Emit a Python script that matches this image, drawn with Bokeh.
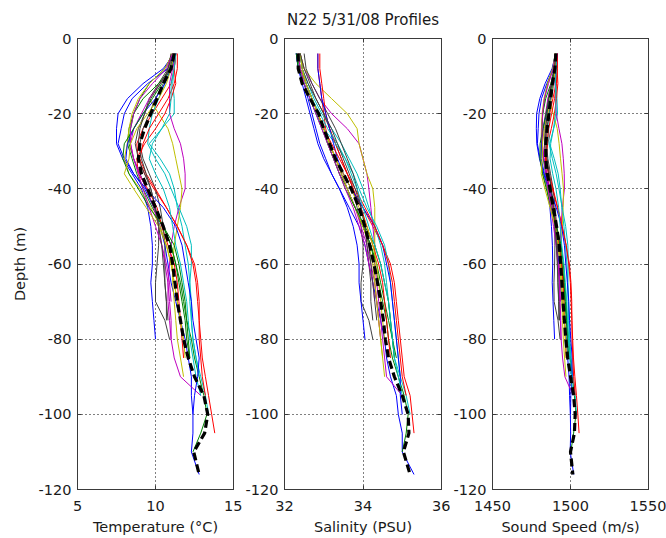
from bokeh.plotting import figure
from bokeh.layouts import row
from bokeh.models import (FixedTicker, LinearAxis, Range1d, PrintfTickFormatter,
                          CustomLabelingPolicy)
from bokeh.embed import file_html
from bokeh.resources import INLINE

# Sample depths (m) shared by every cast; shorter casts use the first N levels
depth_grid = [-4, -8, -12, -16, -20, -24, -28, -32, -36, -40, -45, -50, -55,
              -60, -65, -70, -75, -80, -85, -90, -95, -100, -105, -110, -116]

# MATLAB-style colour order, cycled over the casts
color_order = ["#0000ff", "#008000", "#ff0000", "#00bfbf", "#bf00bf", "#bfbf00", "#404040"]

# Temperature (deg C) per cast
temperature_profiles = [
    [11.2, 10.8, 9.5, 8.5, 8.0, 7.8, 7.6, 8.0, 8.6, 9.3, 9.9, 10.3, 10.6, 10.8, 11.0, 11.3, 11.6, 11.9, 12.1, 12.3, 12.3, 12.4, 12.4, 12.3, 12.8],
    [11.1, 10.6, 9.6, 9.0, 8.6, 8.4, 8.3, 8.6, 9.0, 9.4, 9.9, 10.5, 11.0, 11.3, 11.6, 11.8, 12.0, 12.3, 12.5, 12.8, 13.1, 13.3, 12.9, 12.4],
    [11.3, 11.2, 11.0, 10.4, 9.8, 9.2, 8.8, 8.9, 9.3, 9.9, 10.7, 11.4, 12.0, 12.5, 12.7, 12.8, 12.8, 12.9, 13.0, 13.2, 13.4, 13.6, 13.8],
    [11.3, 11.2, 11.1, 11.2, 11.2, 10.4, 9.6, 10.3, 10.9, 11.2, 11.4, 11.7, 11.9, 12.1, 12.2, 12.3, 12.3, 12.4, 12.6, 12.9, 13.2, 13.4],
    [11.3, 11.1, 10.9, 10.9, 10.9, 11.2, 11.6, 11.8, 11.9, 11.9, 11.5, 11.2, 11.0, 10.9, 10.8, 10.8, 10.9, 11.0, 11.2, 11.6, 12.9],
    [11.0, 10.9, 10.3, 9.6, 10.2, 10.8, 11.1, 11.3, 11.5, 11.7, 11.6, 11.4, 11.2, 11.1, 11.1, 11.2, 11.3, 11.4, 11.6, 11.8],
    [11.1, 10.8, 10.2, 9.6, 9.3, 8.9, 8.7, 8.9, 9.3, 9.7, 10.0, 10.2, 10.2, 10.1, 10.0, 10.0, 10.6, 10.9],
    [11.2, 10.5, 9.2, 8.2, 7.6, 7.5, 7.5, 7.9, 8.5, 9.1, 9.5, 9.7, 9.8, 9.8, 9.7, 9.8, 9.9, 10.0],
    [11.3, 11.0, 10.2, 9.2, 8.6, 8.3, 8.2, 8.5, 8.8, 9.2, 9.8, 10.5, 11.0, 11.3, 11.5, 11.7, 11.9, 12.0, 12.2],
    [11.3, 11.2, 11.3, 11.0, 10.6, 10.0, 9.3, 8.8, 8.9, 9.5, 10.1, 10.4, 10.8, 11.2, 11.4, 11.5, 11.6, 11.7, 11.8],
    [11.2, 11.0, 10.6, 10.2, 9.8, 9.6, 9.5, 10.0, 10.6, 11.0, 11.5, 12.0, 12.3, 12.3, 12.2, 12.2, 12.3, 12.4, 12.6, 12.8],
    [11.2, 11.0, 10.3, 9.6, 9.1, 8.6, 8.4, 8.6, 9.0, 9.4, 9.9, 10.2, 10.4, 10.6, 10.8, 10.9, 11.0, 11.0],
    [11.1, 10.6, 9.6, 8.9, 8.5, 8.3, 8.2, 8.0, 8.3, 9.0, 9.7, 10.3, 10.7, 11.0, 11.2, 11.4, 11.6, 11.8, 11.9],
    [11.0, 10.8, 10.5, 10.0, 9.6, 9.2, 9.0, 9.2, 9.6, 10.0, 10.3, 10.5, 10.6, 10.6, 10.6, 10.7, 10.7],
    [11.3, 11.0, 10.6, 10.0, 9.2, 8.6, 8.2, 8.1, 8.6, 9.4, 10.5, 11.3, 11.7, 11.9, 12.1, 12.3, 12.4, 12.6, 12.8, 12.7, 12.5, 12.4],
    [11.2, 11.0, 10.4, 9.8, 9.2, 8.6, 8.0, 7.9, 8.3, 8.9, 9.6, 10.5, 11.2, 11.5, 11.7, 11.9, 12.0, 12.1, 12.2],
    [11.4, 11.4, 11.2, 10.8, 10.2, 9.6, 9.2, 9.0, 9.4, 10.0, 10.7, 11.4, 12.0, 12.4, 12.6, 12.7, 12.8, 12.8, 12.9, 13.0, 13.2],
    [11.3, 11.2, 11.0, 11.0, 10.9, 10.4, 9.8, 9.6, 10.0, 10.5, 10.9, 11.1, 11.3, 11.6, 11.8, 12.0, 12.1, 12.2, 12.4, 12.6, 12.9],
    [11.1, 10.7, 9.8, 9.0, 8.6, 8.4, 8.4, 8.6, 8.9, 9.2, 9.6, 10.0, 10.4, 10.7, 10.9, 11.0],
    [11.2, 11.0, 10.7, 10.2, 9.5, 8.8, 8.4, 8.3, 8.0, 8.6, 9.4, 10.2, 10.7, 11.0, 11.2, 11.4, 11.6, 11.8],
    [11.2, 10.9, 10.3, 9.7, 9.3, 9.0, 8.9, 9.1, 9.4, 9.7, 10.0, 10.2, 10.4, 10.5, 10.6, 10.7, 10.8],
]

# Salinity (PSU) per cast
salinity_profiles = [
    [32.3, 32.35, 32.5, 32.6, 32.7, 32.8, 32.9, 33.05, 33.2, 33.4, 33.65, 33.9, 34.05, 34.15, 34.25, 34.35, 34.45, 34.55, 34.6, 34.7, 34.85, 34.9, 35.0, 35.0, 35.3],
    [32.3, 32.4, 32.55, 32.7, 32.85, 33.0, 33.1, 33.25, 33.4, 33.6, 33.8, 34.0, 34.2, 34.3, 34.4, 34.5, 34.6, 34.65, 34.75, 34.9, 35.05, 35.15, 35.1, 35.0],
    [32.85, 32.85, 32.9, 32.95, 33.0, 33.05, 33.15, 33.3, 33.5, 33.7, 34.0, 34.25, 34.5, 34.7, 34.8, 34.85, 34.9, 34.95, 35.0, 35.05, 35.2, 35.25, 35.3],
    [32.4, 32.45, 32.6, 32.75, 32.95, 33.2, 33.45, 33.65, 33.85, 34.0, 34.15, 34.3, 34.45, 34.55, 34.6, 34.65, 34.7, 34.75, 34.8, 34.95, 35.1, 35.2],
    [32.4, 32.5, 32.7, 32.9, 33.2, 33.6, 33.9, 34.0, 34.1, 34.15, 34.2, 34.25, 34.3, 34.3, 34.35, 34.4, 34.45, 34.5, 34.55, 34.6, 35.0],
    [32.4, 32.5, 32.8, 33.2, 33.6, 33.85, 33.9, 34.0, 34.1, 34.25, 34.3, 34.3, 34.3, 34.3, 34.3, 34.35, 34.4, 34.45, 34.5, 34.55],
    [32.4, 32.45, 32.6, 32.8, 33.0, 33.15, 33.3, 33.45, 33.6, 33.75, 33.85, 33.95, 34.0, 34.0, 33.95, 33.95, 34.15, 34.25],
    [32.3, 32.35, 32.45, 32.55, 32.65, 32.75, 32.85, 33.0, 33.2, 33.4, 33.6, 33.75, 33.85, 33.9, 33.9, 33.95, 34.0, 34.05],
    [32.35, 32.4, 32.55, 32.7, 32.85, 33.0, 33.15, 33.3, 33.45, 33.6, 33.8, 34.0, 34.2, 34.35, 34.45, 34.55, 34.65, 34.75, 34.85],
    [32.9, 32.9, 32.95, 33.0, 33.05, 33.15, 33.3, 33.45, 33.6, 33.75, 33.95, 34.1, 34.25, 34.4, 34.5, 34.55, 34.6, 34.65, 34.7],
    [32.35, 32.4, 32.5, 32.65, 32.8, 33.0, 33.3, 33.55, 33.75, 33.9, 34.1, 34.35, 34.55, 34.65, 34.7, 34.75, 34.8, 34.85, 34.9, 34.95],
    [32.35, 32.4, 32.55, 32.7, 32.85, 33.0, 33.15, 33.3, 33.45, 33.6, 33.8, 33.95, 34.1, 34.2, 34.3, 34.35, 34.4, 34.45],
    [32.35, 32.4, 32.55, 32.7, 32.85, 33.0, 33.15, 33.3, 33.45, 33.6, 33.8, 34.0, 34.15, 34.25, 34.3, 34.35, 34.4, 34.45, 34.5],
    [32.5, 32.55, 32.7, 32.9, 33.1, 33.3, 33.45, 33.6, 33.75, 33.85, 33.95, 34.05, 34.1, 34.15, 34.2, 34.2, 34.25],
    [32.85, 32.85, 32.9, 32.95, 33.05, 33.15, 33.25, 33.35, 33.5, 33.7, 34.0, 34.3, 34.5, 34.6, 34.7, 34.75, 34.8, 34.85, 34.9, 34.95, 34.95, 35.0],
    [32.3, 32.35, 32.5, 32.65, 32.8, 32.95, 33.1, 33.25, 33.4, 33.55, 33.8, 34.05, 34.3, 34.45, 34.55, 34.65, 34.7, 34.75, 34.8],
    [32.4, 32.45, 32.55, 32.7, 32.85, 33.0, 33.2, 33.4, 33.6, 33.8, 34.05, 34.3, 34.5, 34.65, 34.75, 34.8, 34.85, 34.9, 34.95, 35.0, 35.1],
    [32.4, 32.45, 32.55, 32.7, 32.9, 33.1, 33.35, 33.55, 33.7, 33.85, 34.0, 34.15, 34.3, 34.45, 34.55, 34.65, 34.7, 34.75, 34.8, 34.9, 35.0],
    [32.35, 32.4, 32.5, 32.65, 32.8, 32.95, 33.1, 33.25, 33.4, 33.55, 33.75, 33.9, 34.05, 34.15, 34.25, 34.3],
    [32.4, 32.45, 32.55, 32.7, 32.85, 33.0, 33.15, 33.3, 33.5, 33.7, 33.9, 34.1, 34.25, 34.35, 34.4, 34.45, 34.5, 34.55],
    [32.4, 32.5, 32.65, 32.8, 33.0, 33.2, 33.35, 33.5, 33.65, 33.8, 33.95, 34.05, 34.15, 34.2, 34.25, 34.3, 34.35],
]

# Sound speed (m/s) per cast
sound_speed_profiles = [
    [1490.5, 1489.2, 1484.8, 1481.4, 1479.8, 1479.3, 1478.8, 1480.5, 1482.9, 1485.8, 1488.3, 1490.2, 1491.6, 1492.5, 1493.4, 1494.7, 1496.0, 1497.3, 1498.2, 1499.1, 1499.4, 1499.9, 1500.1, 1499.8, 1502.1],
    [1490.2, 1488.6, 1485.3, 1483.4, 1482.2, 1481.7, 1481.6, 1482.9, 1484.6, 1486.4, 1488.5, 1491.0, 1493.2, 1494.5, 1495.8, 1496.7, 1497.6, 1498.9, 1499.8, 1501.2, 1502.5, 1503.5, 1502.0, 1500.2],
    [1491.6, 1491.4, 1490.8, 1488.7, 1486.7, 1484.7, 1483.4, 1484.1, 1485.8, 1488.3, 1491.7, 1494.6, 1497.2, 1499.3, 1500.3, 1500.8, 1500.9, 1501.4, 1501.9, 1502.8, 1503.8, 1504.7, 1505.5],
    [1491.0, 1490.8, 1490.7, 1491.3, 1491.7, 1489.2, 1486.7, 1489.6, 1492.1, 1493.4, 1494.4, 1495.8, 1496.8, 1497.7, 1498.2, 1498.7, 1498.9, 1499.4, 1500.2, 1501.6, 1503.0, 1503.9],
    [1491.0, 1490.5, 1490.1, 1490.5, 1490.9, 1492.6, 1494.5, 1495.4, 1496.0, 1496.1, 1494.8, 1493.9, 1493.3, 1493.0, 1492.8, 1493.0, 1493.5, 1494.0, 1494.9, 1496.4, 1501.7],
    [1490.0, 1489.8, 1488.1, 1486.2, 1488.9, 1491.5, 1492.7, 1493.6, 1494.6, 1495.5, 1495.3, 1494.7, 1494.0, 1493.8, 1493.8, 1494.4, 1494.9, 1495.4, 1496.2, 1497.1],
    [1490.3, 1489.4, 1487.5, 1485.7, 1484.9, 1483.7, 1483.3, 1484.3, 1486.0, 1487.7, 1489.0, 1489.9, 1490.0, 1489.8, 1489.4, 1489.5, 1492.0, 1493.3],
    [1490.5, 1488.2, 1483.7, 1480.3, 1478.3, 1478.1, 1478.4, 1480.1, 1482.6, 1485.0, 1486.8, 1487.8, 1488.4, 1488.6, 1488.3, 1488.8, 1489.3, 1489.8],
    [1491.0, 1490.0, 1487.4, 1484.1, 1482.2, 1481.4, 1481.3, 1482.6, 1484.0, 1485.7, 1488.2, 1491.0, 1493.2, 1494.6, 1495.5, 1496.4, 1497.4, 1497.9, 1498.9],
    [1491.7, 1491.4, 1491.9, 1491.0, 1489.7, 1487.7, 1485.4, 1483.9, 1484.5, 1486.9, 1489.5, 1490.8, 1492.5, 1494.3, 1495.2, 1495.7, 1496.2, 1496.7, 1497.2],
    [1490.6, 1490.0, 1488.8, 1487.6, 1486.4, 1486.0, 1486.2, 1488.4, 1490.8, 1492.6, 1494.7, 1496.9, 1498.3, 1498.6, 1498.3, 1498.5, 1499.0, 1499.5, 1500.4, 1501.2],
    [1490.6, 1490.0, 1487.8, 1485.5, 1484.0, 1482.4, 1482.0, 1483.0, 1484.7, 1486.4, 1488.5, 1489.9, 1490.9, 1491.8, 1492.8, 1493.3, 1493.8, 1493.9],
    [1490.3, 1488.6, 1485.3, 1483.0, 1481.8, 1481.4, 1481.3, 1480.8, 1482.2, 1484.9, 1487.8, 1490.3, 1492.0, 1493.3, 1494.2, 1495.1, 1495.9, 1496.8, 1497.3],
    [1490.1, 1489.5, 1488.7, 1487.2, 1486.1, 1485.0, 1484.6, 1485.5, 1487.2, 1488.9, 1490.2, 1491.1, 1491.6, 1491.8, 1491.9, 1492.4, 1492.5],
    [1491.6, 1490.6, 1489.3, 1487.3, 1484.6, 1482.6, 1481.4, 1481.2, 1483.3, 1486.5, 1490.9, 1494.3, 1496.1, 1497.0, 1498.0, 1498.9, 1499.4, 1500.2, 1501.1, 1500.9, 1500.2, 1500.0],
    [1490.5, 1490.0, 1488.1, 1486.2, 1484.3, 1482.4, 1480.5, 1480.4, 1482.1, 1484.5, 1487.5, 1491.1, 1494.0, 1495.4, 1496.3, 1497.3, 1497.8, 1498.3, 1498.8],
    [1491.4, 1491.5, 1491.0, 1489.8, 1487.9, 1486.0, 1484.9, 1484.6, 1486.3, 1488.8, 1491.8, 1494.7, 1497.2, 1498.9, 1499.9, 1500.4, 1500.9, 1501.0, 1501.5, 1502.0, 1503.0],
    [1491.0, 1490.8, 1490.3, 1490.6, 1490.5, 1489.1, 1487.3, 1486.9, 1488.6, 1490.7, 1492.4, 1493.4, 1494.4, 1495.8, 1496.7, 1497.6, 1498.1, 1498.7, 1499.5, 1500.5, 1501.7],
    [1490.3, 1489.0, 1485.9, 1483.3, 1482.1, 1481.7, 1481.9, 1482.9, 1484.3, 1485.6, 1487.4, 1489.1, 1490.8, 1492.1, 1493.1, 1493.6],
    [1490.7, 1490.1, 1489.2, 1487.7, 1485.4, 1483.2, 1482.0, 1481.9, 1481.2, 1483.6, 1486.9, 1490.1, 1492.2, 1493.5, 1494.3, 1495.2, 1496.1, 1496.9],
    [1490.7, 1489.8, 1487.9, 1486.0, 1484.9, 1484.2, 1484.1, 1485.0, 1486.4, 1487.7, 1489.1, 1490.0, 1491.0, 1491.5, 1492.0, 1492.5, 1493.0],
]

# Mean profile over all casts
mean_temperature = [11.2, 11.0, 10.5, 10.1, 9.7, 9.3, 9.0, 8.9, 9.1, 9.5, 10.0, 10.5, 10.9,
                    11.1, 11.25, 11.4, 11.6, 11.8, 12.1, 12.5, 13.1, 13.35, 13.15, 12.45, 12.8]
mean_salinity = [32.35, 32.35, 32.45, 32.65, 32.87, 33.0, 33.15, 33.3, 33.5, 33.7, 33.9, 34.05, 34.17,
                 34.28, 34.37, 34.45, 34.52, 34.57, 34.65, 34.8, 35.0, 35.15, 35.17, 35.03, 35.2]
mean_sound_speed = [1490.6, 1490.0, 1488.4, 1487.3, 1486.2, 1485.0, 1484.2, 1484.1, 1485.1, 1486.9,
                    1489.0, 1491.1, 1492.8, 1493.7, 1494.5, 1495.2, 1496.1, 1497.0, 1498.2, 1500.0,
                    1502.0, 1503.0, 1502.5, 1500.0, 1501.5]

depth_ticks = [-120, -100, -80, -60, -40, -20, 0]
temperature_ticks = [5, 10, 15]
salinity_ticks = [32, 34, 36]
sound_speed_ticks = [1450, 1500, 1550]

FONT = "DejaVu Sans"
TEXT_COLOR = "#1a1a1a"
BOX_COLOR = "#3a3a3a"
LABEL_SIZE = "14.5px"

# mirror axes carry tick marks only, no labels
NO_LABELS = "for (const i of indices) { indices.unset(i) }\nreturn indices"


def style_axis(axis, ticks, show_labels=True):
    axis.ticker = FixedTicker(ticks=ticks)
    axis.formatter = PrintfTickFormatter(format="%d")
    axis.major_tick_in = 4
    axis.major_tick_out = 0
    axis.minor_tick_in = 0
    axis.minor_tick_out = 0
    axis.axis_line_color = BOX_COLOR
    axis.major_tick_line_color = BOX_COLOR
    axis.major_label_text_font = FONT
    axis.major_label_text_color = TEXT_COLOR
    axis.major_label_text_font_size = LABEL_SIZE
    axis.axis_label_text_font = FONT
    axis.axis_label_text_color = TEXT_COLOR
    axis.axis_label_text_font_style = "normal"
    axis.axis_label_text_font_size = LABEL_SIZE
    if not show_labels:
        axis.major_label_policy = CustomLabelingPolicy(code=NO_LABELS)
        axis.major_label_text_font_size = "0px"
        axis.major_label_standoff = 0


def make_panel(profiles, mean_values, x_start, x_end, x_ticks, x_label,
               width, border_left, border_right, y_label=None, title=None):
    p = figure(width=width, height=538, output_backend="svg", toolbar_location=None,
               x_range=Range1d(x_start, x_end), y_range=Range1d(-120, 0),
               min_border_left=border_left, min_border_right=border_right,
               min_border_top=38, min_border_bottom=49,
               background_fill_color="white", border_fill_color="white")
    p.outline_line_color = BOX_COLOR
    p.outline_line_width = 1

    if title:
        p.title.text = title
        p.title.align = "center"
        p.title.vertical_align = "top"
        p.title.text_font = FONT
        p.title.text_font_size = "15px"
        p.title.text_font_style = "normal"
        p.title.text_color = TEXT_COLOR
        p.title.standoff = 16

    style_axis(p.xaxis[0], x_ticks)
    p.xaxis[0].axis_label = x_label
    p.xaxis[0].major_label_standoff = 11
    p.xaxis[0].axis_label_standoff = 5
    style_axis(p.yaxis[0], depth_ticks)
    p.yaxis[0].major_label_standoff = 6
    if y_label:
        p.yaxis[0].axis_label = y_label
        p.yaxis[0].axis_label_standoff = 8

    top_axis = LinearAxis()
    style_axis(top_axis, x_ticks, show_labels=False)
    p.add_layout(top_axis, "above")
    right_axis = LinearAxis()
    style_axis(right_axis, depth_ticks, show_labels=False)
    p.add_layout(right_axis, "right")

    p.xgrid[0].ticker = FixedTicker(ticks=x_ticks)
    p.ygrid[0].ticker = FixedTicker(ticks=depth_ticks)
    for g in (p.xgrid[0], p.ygrid[0]):
        g.grid_line_color = "#000000"
        g.grid_line_dash = "1 3"
        g.grid_line_width = 1

    for i, values in enumerate(profiles):
        p.line(values, depth_grid[:len(values)], line_color=color_order[i % len(color_order)],
               line_width=1)
    p.line(mean_values, depth_grid[:len(mean_values)], line_color="black",
           line_width=3.2, line_dash="8 4")
    return p


p1 = make_panel(temperature_profiles, mean_temperature, 5, 15, temperature_ticks,
                "Temperature (°C)", width=242, border_left=77, border_right=9,
                y_label="Depth (m)")
p2 = make_panel(salinity_profiles, mean_salinity, 32, 36, salinity_ticks,
                "Salinity (PSU)", width=208, border_left=42, border_right=9,
                title="N22 5/31/08 Profiles")
p3 = make_panel(sound_speed_profiles, mean_sound_speed, 1450, 1550, sound_speed_ticks,
                "Sound Speed (m/s)", width=216, border_left=42, border_right=18)

layout = row(p1, p2, p3)

open("out.html", "w").write(file_html(layout, INLINE))
